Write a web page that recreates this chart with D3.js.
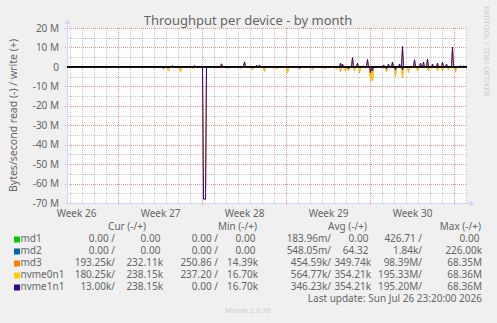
<!DOCTYPE html>
<html>
<head>
<meta charset="utf-8">
<script src="https://cdn.jsdelivr.net/npm/d3@7"></script>
<style>
  html, body { margin: 0; padding: 0; background: #f0f0f0; }
  svg { display: block; font-family: "Noto Sans", sans-serif; }
</style>
</head>
<body>
<svg id="chart"></svg>
<script>
// ---- data (values in M bytes/second) ----
const devices = ["md1", "md2", "md3", "nvme0n1", "nvme1n1"];
const deviceColors = ["#00cc00", "#0066b3", "#ff8000", "#ffcc00", "#330099"];

const startTime = new Date(2026, 5, 23, 18, 0);
const slotHours = 2;     // one RRA row = 2 hours
const slotCount = 400;

// sparse readings: [slot, value]; every other slot reads 0
const md1Read = [];
const md1Write = [];
const md2Read = [];
const md2Write = [];
const md3Read = [
  [96, 1.1], [101, 2.2], [113, 2.7], [125, 0.8], [135, 1.1], [136, 68], [137, 68], [138, 68],
  [149, 0.6], [161, 0.8], [173, 0.8], [185, 1.7], [197, 2.3], [209, 1.1], [220, 3.2], [232, 1.2],
  [245, 1.3], [257, 1.1], [269, 1.1], [273, 2.5], [278, 2.2], [281, 2.0], [287, 2.0], [292, 3.0],
  [303, 7.4], [305, 7.0], [319, 2.6], [328, 4.8], [335, 5.7], [341, 2.8], [350, 2.0], [361, 2.0],
  [370, 2.0], [375, 2.0], [381, 1.5], [388, 2.5]
];
const md3Write = [
  [105, 0.6], [127, 0.6], [154, 1.4], [177, 2.3], [189, 0.7], [192, 0.9], [273, 1.8], [275, 1.3],
  [285, 4.4], [290, 1.8], [300, 3.4], [316, 0.9], [321, 1.3], [325, 2.2], [332, 1.3], [335, 9.8],
  [347, 3.3], [353, 1.8], [356, 2.2], [360, 3.6], [365, 1.3], [370, 1.8], [375, 2.2], [379, 1.3],
  [385, 9.6]
];
const nvme0n1Read = [
  [96, 1.0], [101, 2.0], [113, 2.5], [125, 0.7], [135, 1.0], [136, 68], [137, 68], [138, 68],
  [149, 0.5], [161, 0.7], [173, 0.7], [185, 1.5], [197, 2.0], [209, 1.0], [220, 3.0], [232, 1.0],
  [245, 1.2], [257, 1.0], [269, 1.0], [273, 2.0], [278, 2.0], [281, 1.5], [287, 1.5], [292, 2.5],
  [303, 6.5], [305, 6.0], [319, 2.2], [328, 4.5], [335, 5.0], [341, 2.5], [350, 1.8], [361, 1.8],
  [370, 1.8], [375, 1.5], [381, 1.2], [388, 2.0]
];
const nvme0n1Write = [
  [105, 0.6], [127, 0.6], [154, 1.4], [177, 2.3], [189, 0.7], [192, 0.9], [273, 1.8], [275, 1.3],
  [285, 4.4], [290, 1.8], [300, 3.4], [316, 0.9], [321, 1.3], [325, 2.2], [332, 1.3], [335, 9.8],
  [347, 3.3], [353, 1.8], [356, 2.2], [360, 3.6], [365, 1.3], [370, 1.8], [375, 2.2], [379, 1.3],
  [385, 9.6]
];
const nvme1n1Read = [
  [96, 0.8], [136, 68], [137, 68], [138, 68], [232, 0.7], [281, 1.0], [303, 3.0], [305, 2.0],
  [319, 1.0], [328, 1.5], [335, 1.5], [388, 0.5]
];
const nvme1n1Write = [
  [105, 0.7], [127, 0.7], [154, 1.6], [177, 2.6], [189, 0.8], [192, 1.0], [273, 2.0], [275, 1.5],
  [285, 4.8], [290, 2.0], [296, 0.5], [300, 3.8], [316, 1.0], [321, 1.5], [325, 2.5], [332, 1.5],
  [335, 10.5], [347, 3.7], [353, 2.0], [356, 2.5], [360, 4.0], [365, 1.5], [370, 2.0], [375, 2.5],
  [379, 1.5], [385, 10.2], [393, 0.5], [396, 0.4], [398, 0.4]
];

const yTicks = [20, 10, 0, -10, -20, -30, -40, -50, -60, -70];
const yTickLabels = ["20 M", "10 M", "0", "-10 M", "-20 M", "-30 M", "-40 M", "-50 M", "-60 M", "-70 M"];
const weekLabels = ["Week 26", "Week 27", "Week 28", "Week 29", "Week 30"];

// legend strings, read / write
const curRead  = ["0.00 /", "0.00 /", "193.25k/", "180.25k/", "13.00k/"];
const curWrite = ["0.00\u00a0", "0.00\u00a0", "232.11k", "238.15k", "238.15k"];
const minRead  = ["0.00 /", "0.00 /", "250.86 /", "237.20 /", "0.00 /"];
const minWrite = ["0.00\u00a0", "0.00\u00a0", "14.39k", "16.70k", "16.70k"];
const avgRead  = ["183.96m/", "548.05m/", "454.59k/", "564.77k/", "346.23k/"];
const avgWrite = ["0.00\u00a0", "64.32\u00a0", "349.74k", "354.21k", "354.21k"];
const maxRead  = ["426.71 /", "1.84k/", "98.39M/", "195.33M/", "195.20M/"];
const maxWrite = ["0.00\u00a0", "226.00k", "68.35M", "68.36M", "68.36M"];
const statHeaders = ["Cur (-/+)", "Min (-/+)", "Avg (-/+)", "Max (-/+)"];

// ---- layout ----
const width = 497, height = 323;
const plot = { l: 67, r: 467, t: 28, b: 203 };
const fontColor = "#666666";
const axisColor = "#cfd6f8";

const svg = d3.select("#chart").attr("width", width).attr("height", height);
svg.append("rect").attr("width", width).attr("height", height).attr("fill", "#f0f0f0");

const endTime = d3.timeHour.offset(startTime, slotHours * slotCount);
const x = d3.scaleTime().domain([startTime, endTime]).range([plot.l, plot.r]);
const y = d3.scaleLinear().domain([-70, 20]).range([plot.b, plot.t]);

svg.append("rect")
  .attr("x", plot.l).attr("y", plot.t)
  .attr("width", plot.r - plot.l).attr("height", plot.b - plot.t)
  .attr("fill", "#ffffff");

// grid
const grid = svg.append("g").attr("shape-rendering", "crispEdges");
const weeks = d3.timeWeek.range(startTime, endTime);
const days = d3.timeDay.range(startTime, endTime).filter(d => d.getDay() !== 0);

grid.selectAll(".vminor").data(days).join("line")
  .attr("x1", d => Math.round(x(d)) + 0.5).attr("x2", d => Math.round(x(d)) + 0.5)
  .attr("y1", plot.t).attr("y2", plot.b)
  .attr("stroke", "#c8c8c8").attr("stroke-dasharray", "1,1");

const minorY = d3.range(-65, 20, 10);
grid.selectAll(".hminor").data(minorY).join("line")
  .attr("x1", plot.l).attr("x2", plot.r)
  .attr("y1", d => Math.round(y(d)) + 0.5).attr("y2", d => Math.round(y(d)) + 0.5)
  .attr("stroke", "#c8c8c8").attr("stroke-dasharray", "1,1");

grid.selectAll(".vmajor").data(weeks).join("line")
  .attr("x1", d => Math.round(x(d)) + 0.5).attr("x2", d => Math.round(x(d)) + 0.5)
  .attr("y1", plot.t).attr("y2", plot.b + 3)
  .attr("stroke", "#f09090").attr("stroke-dasharray", "1,1");

grid.selectAll(".hmajor").data(yTicks).join("line")
  .attr("x1", plot.l - 2).attr("x2", plot.r)
  .attr("y1", d => Math.round(y(d)) + 0.5).attr("y2", d => Math.round(y(d)) + 0.5)
  .attr("stroke", "#f09090").attr("stroke-dasharray", "1,1");

// axes lines and arrows
svg.append("line")
  .attr("x1", plot.l + 0.5).attr("x2", plot.l + 0.5).attr("y1", plot.b + 1).attr("y2", plot.t - 4)
  .attr("stroke", axisColor);
svg.append("line")
  .attr("x1", plot.l - 2).attr("x2", plot.r + 3).attr("y1", plot.b + 0.5).attr("y2", plot.b + 0.5)
  .attr("stroke", axisColor);
svg.append("path")
  .attr("d", `M${plot.l - 2.5},${plot.t - 4} L${plot.l + 3.5},${plot.t - 4} L${plot.l + 0.5},${plot.t - 8} Z`)
  .attr("fill", axisColor);
svg.append("path")
  .attr("d", `M${plot.r + 3},${plot.b - 2.5} L${plot.r + 3},${plot.b + 3.5} L${plot.r + 7},${plot.b + 0.5} Z`)
  .attr("fill", axisColor);

// series
function dense(spikes) {
  const vals = new Array(slotCount).fill(0);
  spikes.forEach(([s, v]) => { vals[s] = v; });
  return vals;
}
const slotTime = i => d3.timeMinute.offset(startTime, i * slotHours * 60 + 60);
const line = d3.line()
  .x((v, i) => x(slotTime(i)))
  .y(v => y(v));

const seriesData = [
  [md1Read, md1Write], [md2Read, md2Write], [md3Read, md3Write],
  [nvme0n1Read, nvme0n1Write], [nvme1n1Read, nvme1n1Write]
];
const lines = svg.append("g").attr("fill", "none").attr("stroke-width", 1);
seriesData.forEach(([rd, wr], k) => {
  lines.append("path").attr("d", line(dense(rd).map(v => -v))).attr("stroke", deviceColors[k]);
  lines.append("path").attr("d", line(dense(wr))).attr("stroke", deviceColors[k]);
});

// zero rule
svg.append("line")
  .attr("x1", plot.l).attr("x2", plot.r)
  .attr("y1", y(0)).attr("y2", y(0))
  .attr("stroke", "#000").attr("stroke-width", 1.6);

// tick labels through axes
const yAxis = svg.append("g")
  .attr("transform", `translate(${plot.l - 3},0)`)
  .call(d3.axisLeft(y).tickValues(yTicks).tickSize(0).tickPadding(5)
    .tickFormat((d, i) => yTickLabels[i]));
const weekMids = d3.timeWeek.range(d3.timeWeek.floor(startTime), endTime)
  .map(d => d3.timeHour.offset(d, 84));
const xAxis = svg.append("g")
  .attr("transform", `translate(0,${plot.b})`)
  .call(d3.axisBottom(x).tickValues(weekMids).tickSize(0).tickPadding(4)
    .tickFormat((d, i) => weekLabels[i]));
[yAxis, xAxis].forEach(a => {
  a.select(".domain").remove();
  a.selectAll("text").attr("fill", fontColor).attr("font-size", 10)
    .attr("font-family", "Noto Sans, sans-serif");
});
xAxis.selectAll("text").attr("dy", "0.95em");

// title and side labels
svg.append("text")
  .attr("x", 248).attr("y", 25)
  .attr("text-anchor", "middle").attr("font-size", 13).attr("fill", fontColor)
  .text("Throughput per device - by month");
svg.append("text")
  .attr("transform", `translate(17,${(plot.t + plot.b) / 2}) rotate(-90)`)
  .attr("text-anchor", "middle").attr("font-size", 10.5).attr("fill", fontColor)
  .text("Bytes/second read (-) / write (+)");
svg.append("text")
  .attr("transform", "translate(484,6) rotate(90)")
  .attr("font-size", 7.5).attr("fill", "#cccccc")
  .text("RRDTOOL / TOBI OETIKER");

// legend
const legend = svg.append("g").attr("font-size", 10).attr("fill", fontColor);
const headerRight = [146, 257, 367, 481];
statHeaders.forEach((h, i) => {
  legend.append("text").attr("x", headerRight[i]).attr("y", 230).attr("text-anchor", "end").text(h);
});
const readRight = [115, 218, 331, 422];
const writeRight = [163, 258, 371, 482];
const stats = [[curRead, curWrite], [minRead, minWrite], [avgRead, avgWrite], [maxRead, maxWrite]];
devices.forEach((name, k) => {
  const by = 242 + k * 12;
  legend.append("rect").attr("x", 14).attr("y", by - 5.5).attr("width", 6).attr("height", 6)
    .attr("fill", deviceColors[k]);
  legend.append("text").attr("x", 20.5).attr("y", by).text(name);
  stats.forEach(([rd, wr], j) => {
    legend.append("text").attr("x", readRight[j]).attr("y", by).attr("text-anchor", "end").text(rd[k]);
    legend.append("text").attr("x", writeRight[j]).attr("y", by).attr("text-anchor", "end")
      .attr("xml:space", "preserve").text(wr[k]);
  });
});
legend.append("text").attr("x", 482).attr("y", 302).attr("text-anchor", "end")
  .text("Last update: Sun Jul 26 23:20:00 2026");
svg.append("text")
  .attr("x", 248).attr("y", 313).attr("text-anchor", "middle")
  .attr("font-size", 7.5).attr("fill", "#cccccc")
  .text("Munin 2.0.76");
</script>
</body>
</html>
